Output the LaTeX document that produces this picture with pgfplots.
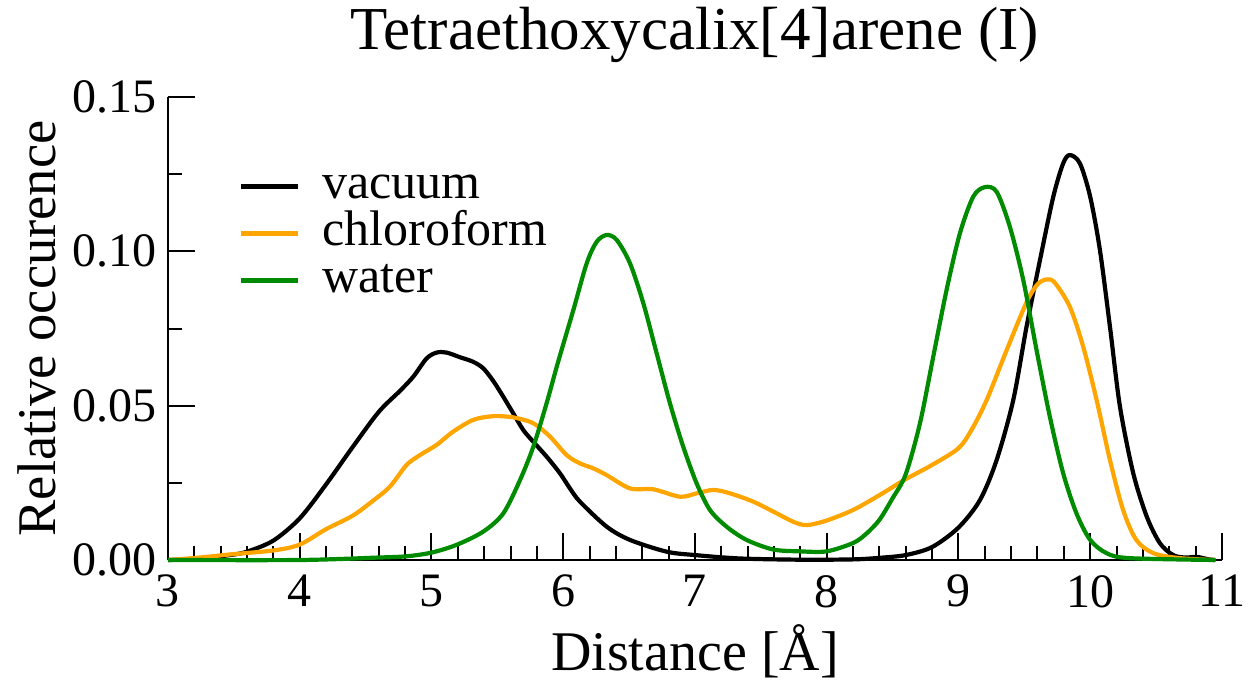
\documentclass[border=0pt]{standalone}
\usepackage{fontspec}
\setmainfont{Liberation Serif}
\usepackage{pgfplots}
\pgfplotsset{compat=1.18}
\definecolor{xorange}{RGB}{255,165,0}
\definecolor{xgreen}{RGB}{0,139,0}
\begin{document}
\begin{tikzpicture}
\path[use as bounding box] (-168pt,-121pt) rectangle (1082pt,560pt);
\begin{axis}[
  at={(0pt,0pt)}, anchor=south west,
  scale only axis, width=1054pt, height=463pt,
  xmin=3, xmax=11, ymin=0, ymax=0.15,
  axis x line*=bottom, axis y line*=left,
  axis line style={-, line width=2pt},
  every tick/.style={black, line width=2pt},
  tick align=inside,
  major tick length=27pt, minor tick length=14pt,
  xtick={3,4,5,6,7,8,9,10,11}, minor x tick num=4,
  ytick={0,0.05,0.1,0.15}, minor y tick num=1,
  /pgf/number format/assume math mode=true,
  ticklabel style={font=\fontsize{48}{58}\selectfont},
  xticklabel style={anchor=north, inner sep=0pt, yshift=-15pt},
  yticklabel style={anchor=east, inner sep=0pt, xshift=-11pt,
    /pgf/number format/fixed, /pgf/number format/fixed zerofill, /pgf/number format/precision=2},
  clip=false,
  title={Tetraethoxycalix[4]arene (I)},
  title style={at={(axis description cs:0.5,1.09)}, anchor=base, inner sep=0pt, font=\fontsize{61}{72}\selectfont},
  xlabel={Distance [Å]},
  xlabel style={at={(axis description cs:0.5,-0.238)}, anchor=base, inner sep=0pt, font=\fontsize{56}{66}\selectfont},
  ylabel={Relative occurence},
  ylabel style={at={(axis description cs:-0.1072,0.5)}, anchor=base, inner sep=0pt, font=\fontsize{54.5}{64}\selectfont},
  legend style={at={(axis cs:3.54,0.1286)}, anchor=north west, draw=none, fill=none,
    inner sep=0pt, outer sep=0pt, row sep=0pt, column sep=22pt,
    font=\fontsize{50}{60}\selectfont,
    nodes={inner sep=0pt, text height=35pt, text depth=12pt}},
  legend image code/.code={\draw[#1] (0pt,0pt) -- (57pt,0pt);},
  legend cell align=left,
  every axis plot/.append style={line width=4.2pt, smooth, tension=0.5, line join=round},
]
\addplot[black] coordinates {
(3.0,0) (3.2,0.0004) (3.47,0.0016) (3.6,0.0027) (3.8,0.0063) (4.0,0.0135) (4.2,0.0245)
(4.4,0.0365) (4.6,0.048) (4.761,0.0548) (4.862,0.0594) (4.963,0.0653) (5.039,0.0672)
(5.115,0.0672) (5.216,0.0657) (5.317,0.0642) (5.393,0.0621) (5.469,0.058) (5.545,0.0529)
(5.621,0.0475) (5.697,0.0421) (5.773,0.0383) (5.874,0.0335) (5.975,0.0281) (6.051,0.0232)
(6.127,0.0189) (6.33,0.0108) (6.507,0.0065) (6.785,0.0027) (7.0,0.0016) (7.34,0.0005)
(7.8,0.0001) (8.2,0.0002) (8.4,0.0007) (8.6,0.0016) (8.8,0.0042) (9.0,0.0105)
(9.163,0.0194) (9.29,0.0324) (9.416,0.0518) (9.517,0.0756) (9.619,0.0972) (9.72,0.1177)
(9.795,0.1285) (9.846,0.1312) (9.922,0.1285) (10.0,0.1177) (10.074,0.1004) (10.15,0.0756)
(10.226,0.0497) (10.327,0.0281) (10.43,0.014) (10.53,0.0054) (10.63,0.0016) (10.72,0.0008)
(10.81,0.001) (10.9,0.0002) (10.95,0)
};
\addlegendentry{vacuum}
\addplot[xorange] coordinates {
(3.0,0) (3.243,0.0008) (3.47,0.0018) (3.8,0.0031) (4.0,0.005) (4.2,0.0100) (4.4,0.0143)
(4.55,0.019) (4.685,0.0238) (4.811,0.0308) (4.913,0.034) (5.039,0.0373) (5.165,0.0416)
(5.317,0.0454) (5.469,0.0466) (5.621,0.0462) (5.773,0.0443) (5.899,0.040) (6.026,0.034)
(6.127,0.0313) (6.228,0.0297) (6.33,0.0275) (6.507,0.0232) (6.684,0.0229) (6.886,0.0205)
(7.013,0.0216) (7.139,0.0227) (7.266,0.0216) (7.443,0.0189) (7.594,0.0157) (7.746,0.0124)
(7.848,0.0113) (8.0,0.0128) (8.2,0.0162) (8.4,0.021) (8.6,0.0262) (8.8,0.0308)
(9.0,0.0362) (9.1,0.0422) (9.214,0.0518) (9.366,0.068) (9.517,0.0835)
(9.6,0.0893) (9.669,0.0909) (9.73,0.0899) (9.846,0.082) (9.947,0.0691) (10.049,0.0518)
(10.15,0.0324) (10.25,0.0162) (10.35,0.0065) (10.48,0.0022) (10.68,0.0006) (10.95,0)
};
\addlegendentry{chloroform}
\addplot[xgreen] coordinates {
(3.0,0) (4.0,0) (4.6,0.0008) (4.811,0.0012) (5.0,0.0024) (5.19,0.0049) (5.393,0.0092)
(5.545,0.0151) (5.672,0.0259) (5.773,0.0367) (5.874,0.0508) (5.96,0.064) (6.077,0.081)
(6.178,0.0961) (6.254,0.1031) (6.33,0.1053) (6.406,0.1037) (6.507,0.0961) (6.608,0.0832)
(6.709,0.067) (6.81,0.0508) (6.911,0.0367) (7.013,0.0248) (7.114,0.0162) (7.24,0.0108)
(7.392,0.0065) (7.594,0.0034) (7.8,0.0028) (8.0,0.0028) (8.2,0.0055) (8.3,0.0085)
(8.4,0.013) (8.5,0.020) (8.6,0.0278) (8.708,0.0443) (8.809,0.0659) (8.91,0.0875)
(9.011,0.1058) (9.112,0.1177) (9.2,0.1208) (9.29,0.1193) (9.39,0.108) (9.492,0.0907)
(9.593,0.068) (9.694,0.0464) (9.795,0.0281) (9.896,0.0151) (10.0,0.0065) (10.125,0.0022)
(10.3,0.0006) (10.95,0)
};
\addlegendentry{water}
\end{axis}
\end{tikzpicture}
\end{document}
